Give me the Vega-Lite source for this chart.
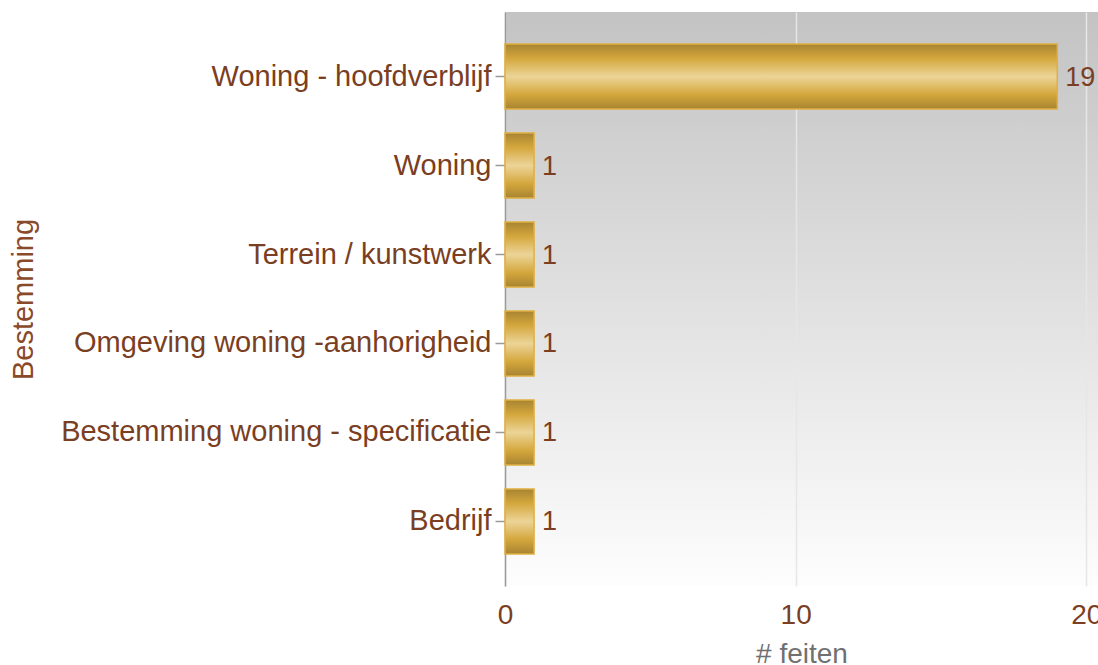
{
  "$schema": "https://vega.github.io/schema/vega-lite/v6.json",
  "autosize": {"type": "none"},
  "padding": {"left": 505, "top": 12, "right": 0, "bottom": 79},
  "width": 593,
  "height": 574,
  "background": "white",
  "config": {
    "font": "Liberation Sans",
    "view": {
      "stroke": null,
      "fill": {
        "gradient": "linear", "x1": 0, "y1": 0, "x2": 0, "y2": 1,
        "stops": [{"offset": 0, "color": "#c3c3c3"}, {"offset": 1, "color": "#fdfdfd"}]
      }
    }
  },
  "data": {
    "values": [
      {"Bestemming": "Woning - hoofdverblijf", "feiten": 19},
      {"Bestemming": "Woning", "feiten": 1},
      {"Bestemming": "Terrein / kunstwerk", "feiten": 1},
      {"Bestemming": "Omgeving woning -aanhorigheid", "feiten": 1},
      {"Bestemming": "Bestemming woning - specificatie", "feiten": 1},
      {"Bestemming": "Bedrijf", "feiten": 1}
    ]
  },
  "encoding": {
    "y": {
      "field": "Bestemming", "type": "nominal",
      "sort": ["Woning - hoofdverblijf", "Woning", "Terrein / kunstwerk", "Omgeving woning -aanhorigheid", "Bestemming woning - specificatie", "Bedrijf"],
      "scale": {"paddingInner": 0.27, "paddingOuter": 0.36},
      "axis": {
        "title": "Bestemming",
        "titleFont": "Liberation Sans", "titleFontSize": 29, "titleFontWeight": "normal", "titleColor": "#8a4a2a",
        "titleX": -473, "titleY": 287, "titleAngle": 270, "titleAlign": "center", "titleBaseline": "alphabetic",
        "labelFont": "Liberation Sans", "labelFontSize": 29, "labelColor": "#7a3e22", "labelLimit": 600,
        "labelPadding": 4, "tickSize": 10, "tickColor": "#9a9a9a", "tickWidth": 1.5,
        "domainColor": "#9a9a9a", "domainWidth": 1.5, "grid": false
      }
    },
    "x": {
      "field": "feiten", "type": "quantitative",
      "scale": {"domain": [0, 20.4], "nice": false},
      "axis": {
        "title": "# feiten", "values": [0, 10, 20],
        "titleFont": "Liberation Sans", "titleFontSize": 28, "titleFontWeight": "normal", "titleColor": "#707070",
        "titleY": 76, "titleBaseline": "alphabetic",
        "labelFont": "Liberation Sans", "labelFontSize": 28, "labelColor": "#7a3e22", "labelFlush": false,
        "labelPadding": 15, "ticks": false, "domain": false,
        "grid": true, "gridColor": "#e6e6e6", "gridWidth": 1.5
      }
    }
  },
  "layer": [
    {
      "mark": {
        "type": "bar",
        "stroke": "#e0b040", "strokeWidth": 1.5,
        "color": {
          "gradient": "linear", "x1": 0, "y1": 0, "x2": 0, "y2": 1,
          "stops": [
            {"offset": 0, "color": "#a88432"},
            {"offset": 0.22, "color": "#d4a73c"},
            {"offset": 0.5, "color": "#ecd497"},
            {"offset": 0.78, "color": "#d4a73c"},
            {"offset": 1, "color": "#a88432"}
          ]
        }
      }
    },
    {
      "mark": {"type": "text", "align": "left", "baseline": "middle", "dx": 8, "dy": 1, "font": "Liberation Sans", "fontSize": 27, "color": "#7a3e22"},
      "encoding": {"text": {"field": "feiten", "type": "quantitative"}}
    }
  ]
}
